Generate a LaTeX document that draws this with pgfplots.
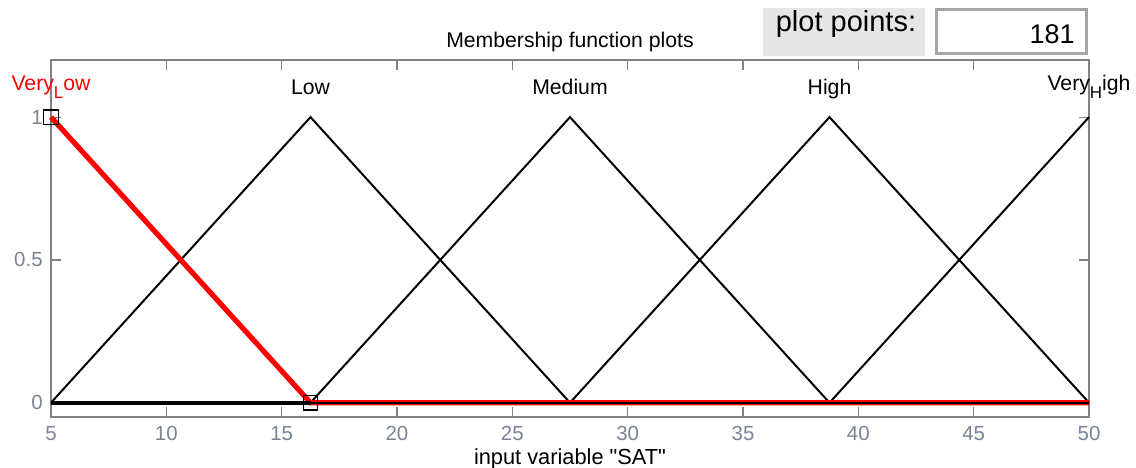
\documentclass[border=0pt]{standalone}
\usepackage{fontspec}
\setmainfont{Liberation Sans}[Ligatures=TeXOff]
\usepackage{pgfplots}
\pgfplotsset{compat=1.18}

\definecolor{axgray}{RGB}{130,130,130}
\definecolor{lblgray}{RGB}{120,132,150}
\definecolor{boxgray}{RGB}{230,230,230}
\definecolor{mfred}{RGB}{255,0,0}

\newcommand{\sub}[1]{\raisebox{-4bp}{\fontsize{8.5bp}{9bp}\selectfont #1}}

\begin{document}
\begin{tikzpicture}[font=\fontsize{10.6bp}{12bp}\selectfont]
  \begin{axis}[
    name=ax,
    scale only axis,
    width=519bp, height=178.5bp,
    xmin=5, xmax=50,
    ymin=-0.05, ymax=1.2,
    xtick={5,10,...,50},
    ytick={0,0.5,1},
    yticklabels={0,0.5,1},
    clip=false,
    axis line style={axgray, line width=0.6bp},
    tick style={axgray, line width=0.6bp},
    major tick length=5bp,
    /pgf/number format/assume math mode=true,
    tick label style={color=lblgray, font=\fontsize{10.2bp}{12bp}\selectfont},
    xticklabel style={anchor=base, inner sep=0pt, yshift=-11.5bp},
    yticklabel style={anchor=east, inner sep=0pt, xshift=-4bp},
    xlabel={input variable "SAT"},
    xlabel style={at={(axis description cs:0.5,0)}, anchor=base, inner sep=0pt, yshift=-23.5bp, font=\fontsize{10.9bp}{12bp}\selectfont},
  ]
    % Low, Medium, High, Very High (black)
    \addplot[black, line width=1bp] coordinates {(5,0) (16.25,1) (27.5,0)};
    \addplot[black, line width=1bp] coordinates {(16.25,0) (27.5,1) (38.75,0)};
    \addplot[black, line width=1bp] coordinates {(27.5,0) (38.75,1) (50,0)};
    \addplot[black, line width=1bp] coordinates {(38.75,0) (50,1)};
    % Very Low (selected, red)
    \addplot[mfred, line width=2.6bp] coordinates {(5,1) (16.25,0) (50,0)};
    % zero parts of the black functions
    \addplot[black, line width=2bp] coordinates {(5,0) (16.25,0)};
    \addplot[black, line width=1.2bp] coordinates {(16.25,0) (50,0)};
    % vertex handles
    \addplot[only marks, mark=square, mark size=3.6bp, mark options={black, line width=0.6bp, fill=none}]
      coordinates {(5,1) (16.25,0)};

    \node[anchor=base, text=mfred] at (axis cs:5,1.092) {Very\sub{L}ow};
    \node[anchor=base] at (axis cs:16.25,1.078) {Low};
    \node[anchor=base] at (axis cs:27.5,1.078) {Medium};
    \node[anchor=base] at (axis cs:38.75,1.078) {High};
    \node[anchor=base] at (axis cs:50,1.092) {Very\sub{H}igh};
  \end{axis}

  \begin{scope}[shift={(ax.south west)}, x=1bp, y=1bp]
    \node[anchor=base] at (259.5,185) {Membership function plots};
    \fill[boxgray] (356,180.5) rectangle (437,204.5);
    \node[anchor=base, font=\fontsize{14.5bp}{16bp}\selectfont] at (397.5,193) {plot points:};
    \draw[fill=white, draw={rgb,255:red,165;green,165;blue,165}, line width=1.5bp] (442.5,181.5) rectangle (517.5,203.5);
    \node[anchor=base east, inner sep=0pt, font=\fontsize{13.5bp}{15bp}\selectfont] at (512,187) {181};
  \end{scope}

  \pgfresetboundingbox
  \path[use as bounding box] ([shift={(-25.5bp,-25.5bp)}]ax.south west) rectangle ([shift={(542.5bp,208.5bp)}]ax.south west);
\end{tikzpicture}
\end{document}
